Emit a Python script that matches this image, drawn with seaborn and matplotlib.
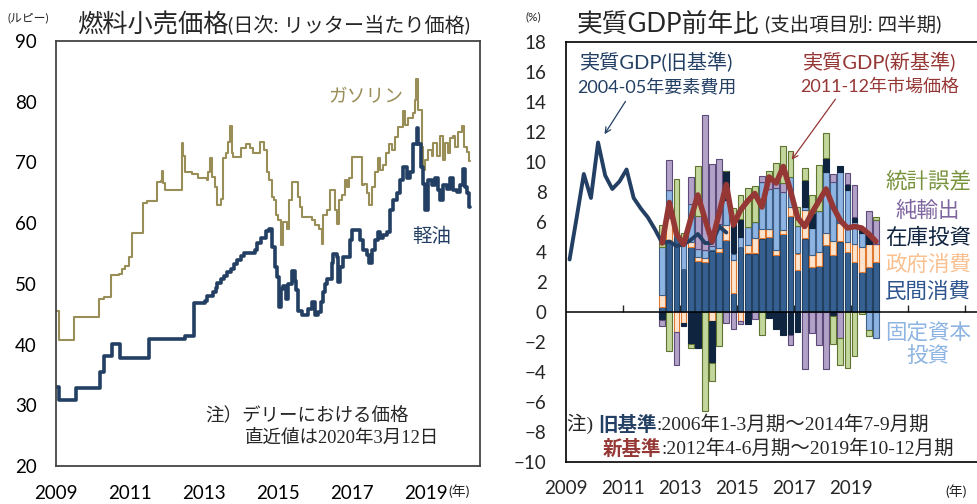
"""
Fuel retail prices (Delhi) and real GDP growth by expenditure component.
"""
import numpy as np
import pandas as pd
import matplotlib.pyplot as plt
import seaborn as sns

# ---- left panel: daily fuel prices (rupee/litre), step breakpoints ----
gas_t = [2009.00, 2009.08, 2009.50, 2010.17, 2010.30, 2010.50, 2010.70, 2010.79, 2010.86, 2010.97,
         2011.05, 2011.36, 2011.47, 2011.72, 2011.83, 2011.86, 2011.88, 2011.94, 2012.40, 2012.44,
         2012.49, 2012.58, 2012.67, 2012.85, 2013.07, 2013.12, 2013.16, 2013.21, 2013.30, 2013.36,
         2013.45, 2013.52, 2013.59, 2013.66, 2013.70, 2013.75, 2013.79, 2013.99, 2014.14, 2014.24,
         2014.33, 2014.51, 2014.62, 2014.69, 2014.77, 2014.83, 2014.89, 2014.95, 2015.01, 2015.08,
         2015.14, 2015.25, 2015.31, 2015.37, 2015.55, 2015.59, 2015.64, 2015.91, 2016.00, 2016.12,
         2016.18, 2016.23, 2016.32, 2016.41, 2016.54, 2016.60, 2016.66, 2016.72, 2016.81, 2016.87,
         2016.93, 2016.99, 2017.26, 2017.32, 2017.40, 2017.47, 2017.53, 2017.62, 2017.71, 2017.76,
         2017.85, 2017.92, 2018.01, 2018.07, 2018.16, 2018.25, 2018.39, 2018.43, 2018.52, 2018.64,
         2018.70, 2018.73, 2018.79, 2018.88, 2018.93, 2018.97, 2019.06, 2019.15, 2019.20, 2019.29,
         2019.38, 2019.45, 2019.51, 2019.60, 2019.65, 2019.72, 2019.78, 2019.87, 2019.96, 2020.03,
         2020.10, 2020.16, 2020.19]
gas_v = [45.6, 40.7, 44.6, 47.5, 47.9, 51.4, 51.7, 52.4, 53.0, 54.5,
         58.3, 63.3, 63.7, 66.8, 66.9, 68.6, 66.6, 65.5, 73.2, 71.0,
         68.4, 68.4, 68.1, 67.4, 67.1, 68.5, 70.7, 67.6, 66.0, 63.0,
         64.0, 70.7, 71.5, 73.4, 76.0, 71.5, 70.9, 72.3, 73.1, 72.3,
         71.5, 73.4, 72.0, 68.5, 67.1, 64.3, 63.8, 61.3, 60.5, 56.4,
         60.2, 59.1, 63.8, 66.8, 64.3, 62.7, 61.0, 60.5, 59.7, 59.1,
         56.6, 61.3, 62.1, 65.4, 62.1, 59.9, 63.8, 64.6, 67.1, 66.0,
         67.4, 70.9, 66.3, 66.5, 64.9, 63.0, 66.0, 68.5, 70.7, 68.7,
         69.6, 71.5, 73.1, 72.0, 74.2, 75.9, 78.4, 76.2, 77.3, 78.1,
         80.3, 83.8, 78.7, 72.6, 68.8, 70.4, 72.1, 71.0, 73.2, 71.0,
         74.3, 70.4, 73.2, 71.5, 74.0, 74.3, 72.6, 75.0, 76.0, 72.6,
         71.8, 70.2, 70.2]

dsl_t = [2009.00, 2009.08, 2009.53, 2010.19, 2010.30, 2010.52, 2010.72, 2011.51, 2012.50, 2012.73,
         2013.02, 2013.09, 2013.23, 2013.32, 2013.36, 2013.45, 2013.54, 2013.63, 2013.72, 2013.81,
         2013.90, 2013.99, 2014.08, 2014.37, 2014.42, 2014.53, 2014.67, 2014.76, 2014.83, 2014.92,
         2014.96, 2015.04, 2015.08, 2015.14, 2015.23, 2015.28, 2015.37, 2015.46, 2015.50, 2015.55,
         2015.64, 2015.82, 2015.91, 2016.00, 2016.09, 2016.15, 2016.21, 2016.27, 2016.32, 2016.45,
         2016.50, 2016.59, 2016.63, 2016.68, 2016.77, 2016.95, 2016.99, 2017.22, 2017.31, 2017.40,
         2017.47, 2017.53, 2017.62, 2017.71, 2017.76, 2017.85, 2017.94, 2018.03, 2018.12, 2018.21,
         2018.30, 2018.39, 2018.48, 2018.57, 2018.66, 2018.75, 2018.79, 2018.86, 2018.91, 2018.97,
         2019.06, 2019.15, 2019.24, 2019.33, 2019.38, 2019.47, 2019.56, 2019.65, 2019.74, 2019.83,
         2019.92, 2019.99, 2020.05, 2020.10, 2020.17, 2020.19]
dsl_v = [33.0, 30.8, 32.8, 35.5, 38.1, 40.1, 37.8, 41.0, 41.4, 46.9,
         47.2, 48.0, 48.6, 49.4, 50.2, 50.8, 51.3, 51.9, 52.4, 53.2,
         54.0, 54.6, 55.1, 55.5, 56.8, 57.6, 58.7, 59.0, 56.1, 52.8,
         51.2, 46.2, 49.2, 49.7, 47.5, 50.0, 52.1, 50.4, 49.0, 45.6,
         44.8, 45.9, 47.0, 44.8, 45.3, 47.0, 48.6, 50.0, 50.8, 53.4,
         55.0, 54.5, 50.3, 52.8, 54.5, 57.2, 58.8, 57.2, 55.5, 54.7,
         53.4, 55.5, 57.2, 58.6, 57.5, 58.0, 58.6, 62.1, 63.8, 64.9,
         67.1, 69.3, 67.4, 68.5, 73.1, 75.6, 73.1, 69.3, 66.5, 62.1,
         67.1, 66.3, 67.4, 65.4, 63.8, 66.3, 65.7, 67.4, 65.4, 65.2,
         66.3, 69.0, 66.0, 64.9, 62.7, 62.7]

# ---- right panel: real GDP yoy (%) ----
old_start, new_start = "2009Q1", "2012Q2"
gdp_old = [3.5, 6.3, 9.2, 7.6, 11.3, 9.1, 8.2, 8.7, 9.5, 7.6, 6.9, 6.3,
           5.5, 4.6, 4.7, 4.4, 4.5, 4.8, 5.2, 4.6, 4.6, 5.7, 5.3]
gdp_new = [4.6, 7.3, 5.2, 4.5, 6.2, 7.8, 6.2, 4.7, 6.6, 8.5, 5.8, 6.8, 7.4, 7.9, 7.0, 9.0,
           8.6, 9.7, 8.1, 6.3, 5.7, 6.6, 7.4, 8.2, 7.0, 6.1, 5.6, 5.7, 5.6, 5.2, 4.7]

# contributions (%pt), new base, 2012Q2-2019Q4
pvt_cons = [0.35, 4.8, 5.0, 2.9, 4.35, 3.4, 3.35, 4.1, 4.0, 4.8, 1.25, 4.35, 3.9, 3.9, 4.9, 5.0,
            3.8, 5.2, 6.4, 2.8, 4.9, 3.0, 3.05, 4.45, 3.8, 4.7, 4.0, 3.35, 2.7, 3.0, 3.35]
gov_cons = [0.8, 1.45, -1.35, -0.75, 0.3, 0.25, 0.25, -0.6, 0.25, 1.0, 2.2, -0.6, 0.55, 1.0, 0.65, 0.55,
            0.35, 0.27, 0.6, 1.1, 1.9, 0.8, 0.95, 0.8, 0.9, 1.2, 0.65, 1.2, 1.65, 1.55, 1.2]
fixed_inv = [3.2, 1.9, 0.3, 1.7, 2.55, 0.55, 0.55, 0.3, 1.6, 1.65, 0.45, 0.65, 1.2, 1.1, 3.1, 2.65,
             4.1, 2.55, 2.0, 1.8, 0.2, 1.8, 2.75, 4.1, 4.0, 3.45, 3.45, 1.45, 0.9, -1.2, -1.7]
inventory = [-0.55, 0.0, 0.0, -0.2, -2.1, -2.4, 0.0, -2.8, 0.0, 1.95, 2.0, 1.2, -0.8, 0.0, 0.0, -0.4,
             -1.1, -1.5, -1.5, -1.3, 1.8, 1.0, 0.0, 0.9, -0.25, 0.4, 0.45, 0.35, 0.35, 0.65, 0.0]
net_exp = [-0.35, 1.95, -2.2, 0.0, 1.8, 2.2, 8.95, 5.5, 4.35, -0.75, -1.1, -0.2, 0.0, -0.45, 0.4, 0.55,
           0.35, 0.55, -0.7, 0.0, -3.8, -1.4, -2.2, -3.8, 0.5, -1.75, 0.7, 2.1, 0.0, 1.5, 1.6]
stat_disc = [1.45, -2.6, 3.6, 0.7, -0.3, 3.3, -6.6, -1.2, -2.25, 0.0, 1.05, 1.6, 2.6, 2.4, -1.5, 0.65,
             1.35, 2.5, 1.75, 1.3, 0.8, 1.2, 3.05, 1.65, -1.9, -1.8, -3.75, -2.9, -0.15, -0.4, 0.18]

components = [
    ("民間消費", pvt_cons, "#366092", "#23405F", "#2F5590"),
    ("政府消費", gov_cons, "#FDE4CF", "#E0782F", "#FAC090"),
    ("固定資本\n投資", fixed_inv, "#8DB4E2", "#3F5F86", "#8DB4E2"),
    ("在庫投資", inventory, "#0F243E", "#0F243E", "#0F243E"),
    ("純輸出", net_exp, "#B3A2C7", "#5E4A7A", "#7F659F"),
    ("統計誤差", stat_disc, "#C3D69B", "#5E7430", "#77933C"),
]
legend_y = {"統計誤差": 181, "純輸出": 211, "在庫投資": 238, "政府消費": 265,
            "民間消費": 292, "固定資本\n投資": 344}

GAS, DSL = "#9A8E58", "#233F63"
OLD, NEW = "#233F63", "#953735"
W, H = 978, 504


def fx(x):
    return x / W


def fy(y):
    return 1 - y / H


def qpos(start, n):
    per = pd.period_range(start, periods=n, freq="Q")
    return per.year + (per.quarter - 0.5) / 4


sns.set_style("white")
plt.rcParams["font.family"] = ["Lato", "Noto Sans CJK JP", "DejaVu Sans"]
SERIF = ["Liberation Serif", "Noto Sans CJK JP"]

fig = plt.figure(figsize=(W / 100, H / 100), dpi=100)

# ================= left =================
ax1 = fig.add_axes([fx(56), fy(466), 424 / W, 425 / H])
sns.lineplot(x=gas_t, y=gas_v, ax=ax1, color=GAS, lw=1.5, drawstyle="steps-post",
             estimator=None, sort=False)
sns.lineplot(x=dsl_t, y=dsl_v, ax=ax1, color=DSL, lw=2.6, drawstyle="steps-post",
             estimator=None, sort=False)
ax1.set_xlim(2009, 2020.46)
ax1.set_ylim(20, 90)
ax1.set_yticks(range(20, 91, 10))
ax1.set_xticks(range(2009, 2020, 2))
ax1.set_xlabel("")
ax1.set_ylabel("")
ax1.tick_params(axis="both", direction="in", length=5, width=1, labelsize=13.5, colors="#333333")
ax1.tick_params(axis="y", pad=14, labelcolor="black")
ax1.tick_params(axis="x", pad=14, labelcolor="black")
for s in ax1.spines.values():
    s.set_color("#444444")
    s.set_linewidth(1.3)

ax1.text(fx(328), fy(97), "ガソリン", transform=fig.transFigure, fontsize=13.5,
         color=GAS, va="center", ha="left")
ax1.text(fx(412), fy(236), "軽油", transform=fig.transFigure, fontsize=14,
         color=DSL, va="center", ha="left")
ax1.text(fx(205), fy(415), "注）デリーにおける価格", transform=fig.transFigure,
         fontsize=13.3, va="center", ha="left", family=SERIF)
ax1.text(fx(245), fy(438), "直近値は2020年3月12日", transform=fig.transFigure,
         fontsize=13.3, va="center", ha="left", family=SERIF)

fig.text(fx(8), fy(18), "(ルピー)", fontsize=8.5, va="center", ha="left")
t1 = fig.text(fx(77), fy(24), "燃料小売価格", fontsize=18.2, va="center", ha="left")
ax1.annotate("(日次: リッター当たり価格)", xy=(1, 0.1), xycoords=t1, fontsize=14.5,
             va="bottom", ha="left", annotation_clip=False)
fig.text(fx(448), fy(491), "(年)", fontsize=10, va="center", ha="left")

# ================= right =================
ax2 = fig.add_axes([fx(566), fy(462), 419 / W, 420 / H])
xb = qpos(new_start, len(gdp_new))
pos_base = np.zeros(len(xb))
neg_base = np.zeros(len(xb))
for name, vals, fc, ec, tc in components:
    v = np.asarray(vals)
    bottom = np.where(v >= 0, pos_base, neg_base)
    ax2.bar(xb, v, bottom=bottom, width=0.2, color=fc, edgecolor=ec, linewidth=0.8, zorder=2)
    pos_base = pos_base + np.clip(v, 0, None)
    neg_base = neg_base + np.clip(v, None, 0)
    fig.text(fx(928), fy(legend_y[name]), name, fontsize=15.5, color=tc,
             ha="center", va="center", linespacing=1.25)

sns.lineplot(x=qpos(old_start, len(gdp_old)), y=gdp_old, ax=ax2, color=OLD, lw=2.8, zorder=4)
sns.lineplot(x=xb, y=gdp_new, ax=ax2, color=NEW, lw=4, zorder=5)
ax2.axhline(0, color="black", lw=1.1, zorder=6)

ax2.set_xlim(2009, 2009 + 419 / 28.5)
ax2.set_ylim(-10, 18)
ax2.set_yticks(range(-10, 19, 2))
ax2.set_xticks(range(2009, 2020, 2))
ax2.set_xlabel("")
ax2.set_ylabel("")
ax2.tick_params(axis="y", direction="in", length=5, width=1, labelsize=13.5, pad=14)
ax2.tick_params(axis="x", length=0, labelsize=13.5, pad=13)
for s in ax2.spines.values():
    s.set_color("black")
    s.set_linewidth(1.2)

sec = ax2.secondary_xaxis(10 / 28)
sec.set_xticks(range(2011, 2024, 2))
sec.tick_params(direction="in", length=5, width=1, labelbottom=False)
sec.spines["bottom"].set_visible(False)

ax2.text(fx(657), fy(62), "実質GDP(旧基準)", transform=fig.transFigure, fontsize=14.5,
         color=OLD, ha="center", va="center")
ax2.text(fx(657), fy(87), "2004-05年要素費用", transform=fig.transFigure, fontsize=13,
         color=OLD, ha="center", va="center")
ax2.text(fx(880), fy(62), "実質GDP(新基準)", transform=fig.transFigure, fontsize=14.5,
         color=NEW, ha="center", va="center")
ax2.text(fx(880), fy(87), "2011-12年市場価格", transform=fig.transFigure, fontsize=13,
         color=NEW, ha="center", va="center")
ax2.annotate("", xy=(2010.30, 11.7), xytext=(fx(627), fy(99)), textcoords="figure fraction",
             arrowprops=dict(arrowstyle="->", color=OLD, lw=0.9), zorder=7)
ax2.annotate("", xy=(2016.86, 10.0), xytext=(fx(837), fy(97)), textcoords="figure fraction",
             arrowprops=dict(arrowstyle="->", color=NEW, lw=0.9), zorder=7)

NOTE = 14
n1 = fig.text(fx(567), fy(424), "注) ", fontsize=NOTE, va="center", ha="left", family=SERIF)
n2 = ax2.annotate("旧基準", xy=(1, 0), xycoords=n1, fontsize=NOTE, fontweight="bold",
                  color=OLD, va="bottom", ha="left", annotation_clip=False)
ax2.annotate(":2006年1-3月期～2014年7-9月期", xy=(1, 0), xycoords=n2, fontsize=NOTE,
             va="bottom", ha="left", family=SERIF, annotation_clip=False)
n4 = fig.text(fx(603), fy(448), "新基準", fontsize=NOTE, fontweight="bold", color=NEW,
              va="center", ha="left")
ax2.annotate(":2012年4-6月期～2019年10-12月期", xy=(1, 0), xycoords=n4, fontsize=NOTE,
             va="bottom", ha="left", family=SERIF, annotation_clip=False)

fig.text(fx(525), fy(17), "(%)", fontsize=8.5, va="center", ha="left")
t2 = fig.text(fx(577), fy(24), "実質GDP前年比", fontsize=18.5, va="center", ha="left")
ax2.annotate(" (支出項目別: 四半期)", xy=(1, 0.1), xycoords=t2, fontsize=14,
             va="bottom", ha="left", annotation_clip=False)
fig.text(fx(945), fy(491), "(年)", fontsize=10, va="center", ha="left")

fig.savefig("out.png", dpi=100)
